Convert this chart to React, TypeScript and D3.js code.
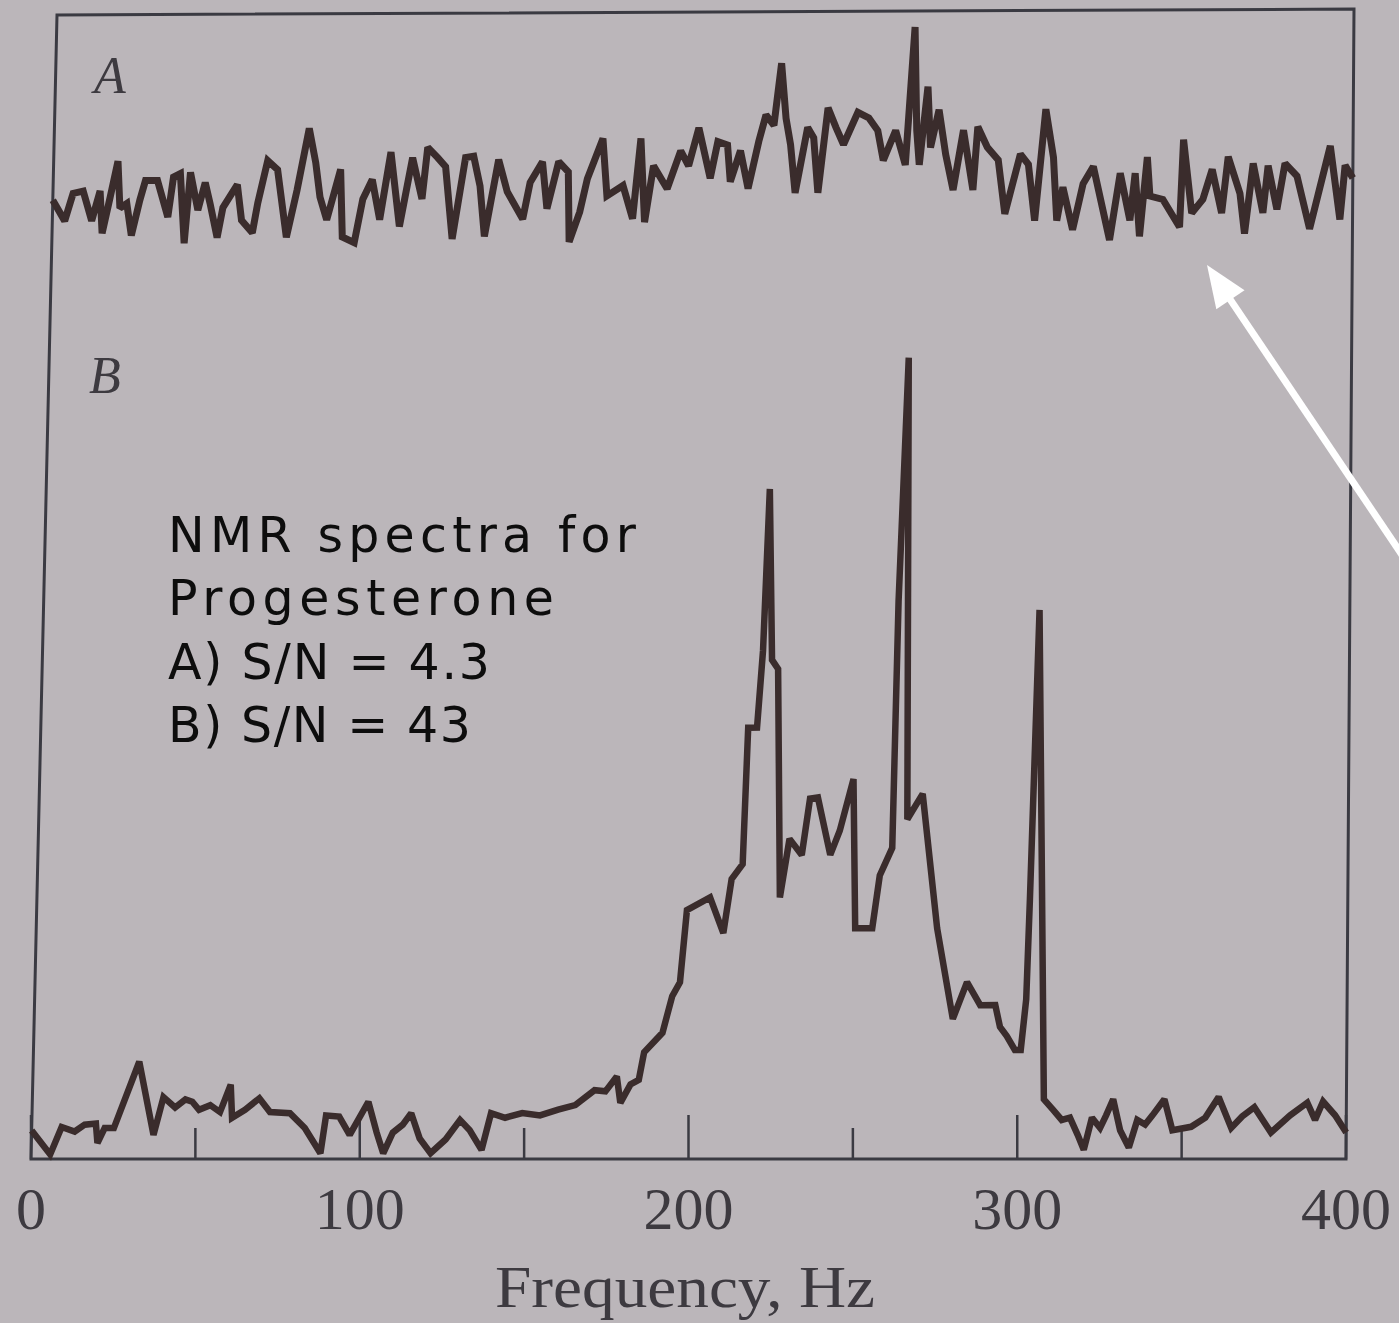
import React, { useEffect, useRef } from "react";
import * as d3 from "d3";

// spectrum A (S/N 4.3): frequency in Hz, intensity on a 0-100 frame scale
const specAHz = [0, 3.8, 6.2, 9.3, 12.1, 14.5, 15.4, 17.6, 19.8, 20.7, 22.8, 24.4, 26.8, 28.4, 32.1, 35.5, 37.0, 39.1, 40.7, 42.2, 44.7, 46.8, 48.4, 50.8, 52.4, 56.7, 58.2, 61.6, 63.1, 65.9, 69.0, 72.1, 75.1, 78.5, 80.7, 82.2, 84.4, 88.4, 89.3, 93.0, 95.4, 98.2, 100.7, 103.8, 106.8, 110.5, 113.6, 115.1, 118.2, 120.7, 123.1, 126.8, 129.3, 131.4, 133.0, 137.0, 139.8, 144.7, 146.8, 150.5, 152.1, 155.5, 158.5, 159.1, 162.2, 164.4, 169.0, 170.5, 175.4, 178.5, 180.7, 182.2, 184.7, 189.0, 193.0, 195.5, 198.5, 202.2, 204.4, 207.4, 208.4, 211.4, 213.9, 217.0, 219.1, 221.6, 223.7, 225.3, 226.8, 228.4, 232.0, 233.9, 235.4, 238.2, 240.7, 243.1, 247.4, 250.8, 253.6, 255.4, 259.1, 262.2, 264.7, 265.6, 266.5, 268.9, 269.9, 272.4, 274.6, 277.0, 280.0, 283.1, 284.4, 287.4, 290.8, 293.0, 297.6, 300.1, 302.2, 305.3, 307.8, 309.0, 310.8, 313.9, 317.0, 320.1, 325.3, 328.4, 331.5, 333.0, 334.5, 336.7, 337.6, 341.6, 346.8, 347.8, 350.5, 353.9, 356.7, 359.7, 361.6, 365.3, 366.8, 369.3, 372.4, 373.9, 376.7, 379.1, 382.8, 386.8, 389.3, 393.0, 396.1, 397.6, 400];
const specAInt = [83.8, 82.0, 84.4, 84.6, 82.0, 84.6, 80.9, 84.0, 87.2, 83.1, 83.5, 80.7, 83.8, 85.5, 85.5, 82.3, 85.8, 86.1, 80.0, 86.2, 82.9, 85.3, 83.5, 80.5, 83.1, 85.1, 82.0, 80.9, 83.5, 87.2, 86.4, 80.5, 84.6, 90.0, 87.0, 84.0, 82.0, 86.4, 80.5, 80.0, 83.8, 85.5, 82.0, 87.9, 81.4, 87.4, 83.8, 88.3, 87.4, 86.6, 80.3, 87.4, 87.5, 84.9, 80.5, 87.2, 84.4, 82.0, 85.2, 87.0, 82.9, 87.0, 86.1, 80.0, 82.6, 85.5, 89.0, 84.0, 84.9, 82.0, 89.0, 81.7, 86.6, 84.6, 87.9, 86.6, 89.9, 85.5, 88.7, 88.4, 85.2, 87.9, 84.6, 88.7, 91.0, 90.1, 95.5, 90.7, 88.4, 84.2, 89.9, 89.0, 84.2, 91.6, 89.9, 88.4, 91.2, 90.7, 89.6, 87.0, 89.6, 86.6, 98.6, 89.6, 86.6, 93.4, 88.1, 91.4, 87.5, 84.4, 89.6, 84.4, 89.9, 88.1, 87.0, 82.3, 87.5, 86.6, 81.7, 91.4, 87.2, 81.7, 84.6, 80.9, 84.9, 86.4, 80.0, 85.8, 81.7, 85.8, 80.3, 87.2, 83.8, 83.5, 81.1, 88.7, 82.3, 83.5, 86.1, 82.3, 87.2, 84.0, 80.5, 86.6, 82.3, 86.4, 82.6, 86.6, 85.5, 80.9, 83.8, 88.1, 81.7, 86.4, 85.3];

// spectrum B (S/N 43)
const specBHz = [0, 5.8, 9.1, 13.1, 16.1, 19.5, 20.1, 22.2, 25.0, 32.3, 37.1, 39.9, 43.5, 46.6, 48.7, 50.8, 54.2, 57.2, 60.3, 60.9, 64.8, 69.1, 72.4, 78.5, 83.1, 88.0, 89.5, 93.5, 96.8, 102.3, 105.0, 107.1, 109.9, 112.9, 115.4, 118.1, 121.5, 126.0, 130.3, 133.3, 137.0, 139.7, 144.0, 149.2, 154.6, 160.1, 165.3, 171.1, 174.4, 177.8, 179.0, 182.0, 184.5, 186.0, 191.5, 194.3, 196.6, 198.4, 205.4, 209.6, 211.9, 215.2, 216.3, 219.0, 220.5, 221.9, 223.3, 225.2, 226.7, 229.4, 233.2, 235.5, 237.9, 241.9, 244.7, 248.7, 249.8, 255.0, 257.1, 260.8, 261.8, 264.0, 265.3, 269.9, 274.8, 279.9, 284.1, 288.2, 292.8, 294.3, 296.4, 298.9, 300.7, 302.2, 303.0, 305.0, 307.9, 310.7, 313.4, 315.9, 318.3, 320.2, 322.6, 325.1, 326.9, 329.0, 331.2, 333.9, 336.4, 338.8, 341.0, 344.6, 347.1, 352.8, 357.1, 361.1, 365.0, 368.3, 372.0, 377.1, 382.9, 388.1, 390.5, 392.9, 396.6, 400];
const specBInt = [2.5, 0.4, 2.8, 2.4, 3.0, 3.1, 1.4, 2.7, 2.7, 8.5, 2.1, 5.4, 4.5, 5.2, 5.0, 4.3, 4.7, 4.1, 6.5, 3.6, 4.3, 5.3, 4.1, 4.0, 2.7, 0.5, 3.8, 3.7, 2.1, 5.0, 2.3, 0.5, 2.3, 3.0, 4.0, 1.8, 0.5, 1.7, 3.4, 2.5, 0.8, 4.0, 3.6, 4.0, 3.8, 4.3, 4.7, 6.0, 5.9, 7.2, 4.9, 6.5, 6.9, 9.3, 11.0, 14.2, 15.4, 21.7, 22.8, 19.7, 24.4, 25.7, 37.6, 37.6, 44.3, 58.4, 43.5, 42.7, 22.8, 27.9, 26.5, 31.4, 31.5, 26.5, 28.6, 33.1, 20.1, 20.1, 24.7, 27.1, 48.6, 69.8, 29.6, 31.8, 20.1, 12.2, 15.4, 13.4, 13.4, 11.5, 10.7, 9.5, 9.5, 13.9, 22.6, 47.8, 5.2, 4.3, 3.4, 3.6, 2.1, 0.8, 3.6, 2.7, 3.8, 5.2, 2.5, 1.0, 3.4, 3.0, 3.8, 5.2, 2.5, 2.8, 3.6, 5.4, 2.7, 3.7, 4.5, 2.3, 3.8, 4.9, 3.4, 5.0, 3.8, 2.3];

const majorTicks = [0, 100, 200, 300, 400];
const minorTicks = [50, 150, 250, 350];
const xTitle = "Frequency, Hz";
const noteLines = ["NMR spectra for", "Progesterone", "A) S/N = 4.3", "B) S/N = 43"];
const noteWidths = [468, 386, 322, 303];

// the page is a photo, so the frame is a bit out of square
const corners = { bl: [31, 1159], br: [1346, 1159], tl: [57, 15], tr: [1354, 9] };

function proj(u: number, v: number): [number, number] {
  const { bl, br, tl, tr } = corners;
  const x = (1 - u) * (1 - v) * bl[0] + u * (1 - v) * br[0] + (1 - u) * v * tl[0] + u * v * tr[0];
  const y = (1 - u) * (1 - v) * bl[1] + u * (1 - v) * br[1] + (1 - u) * v * tl[1] + u * v * tr[1];
  return [x, y];
}

const App = () => {
  const svgRef = useRef<SVGSVGElement>(null);

  useEffect(() => {
    document.body.style.margin = "0";
    document.body.style.background = "#bbb6ba";

    const svg = d3.select(svgRef.current);
    svg.selectAll("*").remove();

    const xs = d3.scaleLinear().domain([0, 400]).range([0, 1]);
    const ys = d3.scaleLinear().domain([0, 100]).range([0, 1]);
    const ink = "#3a2c2c";
    const frameInk = "#3a3a42";
    const serif = "'Liberation Serif', 'DejaVu Serif', serif";

    // frame
    const frame = [proj(0, 0), proj(1, 0), proj(1, 1), proj(0, 1)];
    svg.append("polygon")
      .attr("points", frame.map(p => p.join(",")).join(" "))
      .attr("fill", "none")
      .attr("stroke", frameInk)
      .attr("stroke-width", 3);

    // ticks pointing up from the bottom edge
    const tickLine = (t: number, len: number) => {
      const [x, y] = proj(xs(t), 0);
      svg.append("line")
        .attr("x1", x).attr("x2", x)
        .attr("y1", y).attr("y2", y - len)
        .attr("stroke", frameInk).attr("stroke-width", 2.5);
    };
    majorTicks.forEach(t => tickLine(t, 44));
    minorTicks.forEach(t => tickLine(t, 31));

    majorTicks.forEach(t => {
      const [x] = proj(xs(t), 0);
      svg.append("text")
        .attr("x", x).attr("y", 1229)
        .attr("text-anchor", "middle")
        .attr("font-family", serif)
        .attr("font-size", 60)
        .attr("fill", "#3d3a40")
        .text(t);
    });

    svg.append("text")
      .attr("x", 495).attr("y", 1307)
      .attr("font-family", serif)
      .attr("font-size", 60)
      .attr("textLength", 380)
      .attr("lengthAdjust", "spacingAndGlyphs")
      .attr("fill", "#3d3a40")
      .text(xTitle);

    // panel letters
    const letters: [string, number, number][] = [["A", 94, 93], ["B", 89, 393]];
    letters.forEach(([s, x, y]) => {
      svg.append("text")
        .attr("x", x).attr("y", y)
        .attr("font-family", serif)
        .attr("font-style", "italic")
        .attr("font-size", 52)
        .attr("fill", "#3d3a40")
        .text(s);
    });

    // spectra
    const line = d3.line<[number, number]>()
      .x(d => proj(xs(d[0]), ys(d[1]))[0])
      .y(d => proj(xs(d[0]), ys(d[1]))[1]);

    const dataA = specAHz.map((h, i) => [h, specAInt[i]] as [number, number]);
    const dataB = specBHz.map((h, i) => [h, specBInt[i]] as [number, number]);

    svg.append("path")
      .attr("d", line(dataA))
      .attr("fill", "none")
      .attr("stroke", ink)
      .attr("stroke-width", 7)
      .attr("stroke-linejoin", "miter")
      .attr("stroke-miterlimit", 2);

    svg.append("path")
      .attr("d", line(dataB))
      .attr("fill", "none")
      .attr("stroke", ink)
      .attr("stroke-width", 6.5)
      .attr("stroke-linejoin", "miter")
      .attr("stroke-miterlimit", 2);

    // overlay note
    noteLines.forEach((s, i) => {
      svg.append("text")
        .attr("x", 168).attr("y", 552 + i * 63.4)
        .attr("font-family", "'DejaVu Sans', Verdana, sans-serif")
        .attr("font-size", 49)
        .attr("textLength", noteWidths[i])
        .attr("lengthAdjust", "spacing")
        .attr("fill", "#0d0d0d")
        .text(s);
    });

    // white arrow pointing at the noisy baseline
    const tip: [number, number] = [1207, 265];
    const tail: [number, number] = [1425, 589];
    const dx = tip[0] - tail[0], dy = tip[1] - tail[1];
    const len = Math.hypot(dx, dy);
    const ux = dx / len, uy = dy / len;
    const headLen = 42, headHalf = 17;
    const base: [number, number] = [tip[0] - ux * headLen, tip[1] - uy * headLen];
    svg.append("line")
      .attr("x1", tail[0]).attr("y1", tail[1])
      .attr("x2", base[0] + ux * 6).attr("y2", base[1] + uy * 6)
      .attr("stroke", "#fff").attr("stroke-width", 7);
    svg.append("polygon")
      .attr("points", [
        tip,
        [base[0] - uy * headHalf, base[1] + ux * headHalf],
        [base[0] + uy * headHalf, base[1] - ux * headHalf],
      ].map(p => p.join(",")).join(" "))
      .attr("fill", "#fff");

    return () => {
      d3.select(svgRef.current).selectAll("*").remove();
    };
  }, []);

  return (
    <div style={{ width: 1399, height: 1323, background: "#bbb6ba" }}>
      <svg ref={svgRef} width={1399} height={1323} style={{ display: "block" }}></svg>
    </div>
  );
};

export default App;
